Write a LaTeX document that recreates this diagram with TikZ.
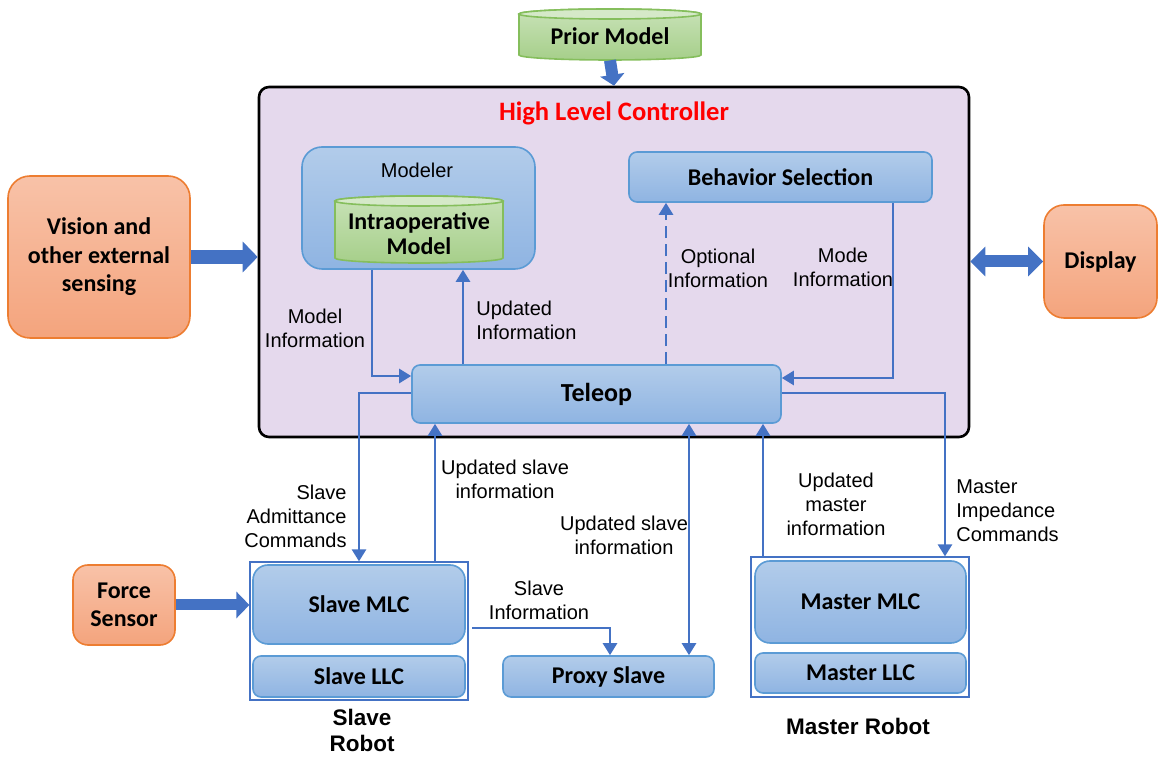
\documentclass[tikz,border=0pt]{standalone}
\usepackage{fontspec}
\setmainfont{Liberation Sans}
\newfontfamily\cfont{Carlito}
\usetikzlibrary{arrows.meta,calc}
\definecolor{lineblue}{HTML}{4472C4}
\definecolor{boxedge}{HTML}{5B9BD5}
\definecolor{bluetop}{HTML}{B2CCEA}
\definecolor{bluebot}{HTML}{8FB4E2}
\definecolor{orangeedge}{HTML}{ED7D31}
\definecolor{orangetop}{HTML}{F8C2A8}
\definecolor{orangebot}{HTML}{F4A47D}
\definecolor{lavender}{HTML}{E5D9ED}
\definecolor{greentop}{HTML}{C8E2B7}
\definecolor{greenbot}{HTML}{A6CF8A}
\definecolor{greencap}{HTML}{D5E9C8}
\definecolor{greenedge}{HTML}{85BE5C}
\definecolor{titlered}{HTML}{FF0000}
\newcommand\mycyl[4]{%
  \pgfmathsetmacro\cylrx{(#3-#1)/4}%
  \path[cylbody] ({#1},{#2+5}) -- ({#1},{#4-5})
    arc[start angle=180,end angle=360,x radius=\cylrx pt,y radius=2.5pt]
    -- ({#3},{#2+5})
    arc[start angle=0,end angle=180,x radius=\cylrx pt,y radius=2.5pt] -- cycle;
  \path[cyltop] ({(#1+#3)/2},{#2+5}) ellipse[x radius=\cylrx pt,y radius=2.5pt];
}
\begin{document}
\begin{tikzpicture}[x=0.5pt,y=-0.5pt,
  boxtext/.style={font=\cfont\bfseries\fontsize{12}{14.25}\selectfont, align=center, text=black},
  bluebox/.style={boxtext, draw=boxedge, line width=0.8pt, top color=bluetop, bottom color=bluebot, rounded corners=4pt, inner sep=0pt},
  orangebox/.style={boxtext, draw=orangeedge, line width=0.8pt, top color=orangetop, bottom color=orangebot, rounded corners=10pt, inner sep=0pt},
  robotframe/.style={draw=lineblue, line width=0.6pt, fill=white, inner sep=0pt},
  cylbody/.style={draw=greenedge, line width=0.8pt, top color=greentop, bottom color=greenbot},
  cyltop/.style={draw=greenedge, line width=0.8pt, fill=greencap},
  conn/.style={draw=lineblue, line width=1.3pt, -{Triangle[width=7pt,length=6pt]}},
  lbl/.style={font=\fontsize{10}{12}\selectfont, align=center, text=black, inner sep=0pt},
  robotlbl/.style={font=\bfseries\fontsize{11.25}{13}\selectfont, align=center, inner sep=0pt},
  blockarrow/.style={draw=lineblue, line width=#1}
]
\useasboundingbox (0,0) rectangle (1158,758);

% High level controller
\node[draw=black, line width=1.3pt, fill=lavender, rounded corners=5pt,
      minimum width=355pt, minimum height=175pt, inner sep=0pt] (hlc) at (614,262) {};
\node[font=\cfont\bfseries\fontsize{13.3}{15}\selectfont, text=titlered] (title) at (614,113) {High Level Controller};

% Prior model cylinder
\mycyl{519}{9}{701}{60}
\node[boxtext, minimum width=91pt, minimum height=25.5pt, inner sep=0pt, text height=11pt, text depth=1pt] (prior) at (610,34.5) {Prior Model};

% Modeler
\node[bluebox, rounded corners=10pt, minimum width=116.5pt, minimum height=61pt] (modeler) at (418.5,208) {};
\node[lbl] (modlabel) at (417,170) {Modeler};
\mycyl{335}{196}{503}{263}
\node[boxtext, font=\cfont\bfseries\fontsize{12}{12.5}\selectfont] (intra) at (419,234) {Intraoperative\\Model};

% Behavior selection and teleop
\node[bluebox, minimum width=151.5pt, minimum height=25pt] (behav) at (780.5,177) {Behavior Selection};
\node[bluebox, font=\cfont\bfseries\fontsize{13}{15}\selectfont, minimum width=184.5pt, minimum height=29pt] (teleop) at (596.5,394) {Teleop};

% External boxes
\node[orangebox, rounded corners=11pt, minimum width=91pt, minimum height=81pt] (vision) at (99,257) {Vision and\\other external\\sensing};
\node[orangebox, minimum width=56.5pt, minimum height=56.5pt] (display) at (1100.5,261.5) {Display};
\node[orangebox, rounded corners=7.5pt, minimum width=51pt, minimum height=40pt] (force) at (124,605) {Force\\Sensor};

% Slave robot
\node[robotframe, minimum width=109pt, minimum height=69pt] (slaverobot) at (359,631) {};
\node[bluebox, rounded corners=7.5pt, minimum width=106pt, minimum height=39.5pt] (slavemlc) at (359,604.5) {Slave MLC};
\node[bluebox, minimum width=106pt, minimum height=20.5pt] (slavellc) at (359,676.5) {Slave LLC};
\node[robotlbl] (slavelbl) at (362,730) {Slave\\Robot};

% Proxy slave
\node[bluebox, minimum width=105.5pt, minimum height=20.5pt] (proxy) at (608.5,676.5) {Proxy Slave};

% Master robot
\node[robotframe, minimum width=109pt, minimum height=70pt] (masterrobot) at (860,627) {};
\node[bluebox, rounded corners=7.5pt, minimum width=105.5pt, minimum height=41pt] (mastermlc) at (860.5,602) {Master MLC};
\node[bluebox, minimum width=105.5pt, minimum height=20pt] (masterllc) at (860.5,673) {Master LLC};
\node[robotlbl] (masterlbl) at (858,726) {Master Robot};

% Block arrows
\draw[blockarrow=6pt, -{Triangle[width=12pt,length=5.5pt]}] (prior.south) -- (hlc.north);
\draw[blockarrow=7pt, -{Triangle[width=15pt,length=7.5pt]}] (vision.east) -- (hlc.west |- vision.east);
\draw[blockarrow=6pt, {Triangle[width=14.5pt,length=7.5pt]}-{Triangle[width=14.5pt,length=7.5pt]}] (hlc.east |- display.west) -- (display.west);
\draw[blockarrow=5.5pt, -{Triangle[width=13pt,length=6.5pt]}] (force.east) -- (slaverobot.west |- force.east);

% Helper coordinates
\coordinate (cModel) at (372,0);
\coordinate (cUpd) at (463,0);
\coordinate (cOpt) at (666,0);
\coordinate (cMode) at (893,0);
\coordinate (cSac) at (359,0);
\coordinate (cUpds) at (435,0);
\coordinate (cMid) at (689,0);
\coordinate (cSi) at (610,0);
\coordinate (cUpdm) at (763,0);
\coordinate (cMic) at (945,0);
\coordinate (rModel) at (0,376);
\coordinate (rMode) at (0,378);
\coordinate (rCmd) at (0,393);
\coordinate (siStart) at (472,628);

% Connectors
\draw[conn] (modeler.south -| cModel) |- (teleop.west |- rModel);
\draw[conn] (teleop.north -| cUpd) -- (modeler.south -| cUpd);
\draw[conn, dash pattern=on 6pt off 3pt] (teleop.north -| cOpt) -- (behav.south -| cOpt);
\draw[conn] (behav.south -| cMode) |- (teleop.east |- rMode);
\draw[conn] (teleop.west |- rCmd) -| (slaverobot.north -| cSac);
\draw[conn] (slaverobot.north -| cUpds) -- (teleop.south -| cUpds);
\draw[conn, {Triangle[width=7pt,length=6pt]}-{Triangle[width=7pt,length=6pt]}] (teleop.south -| cMid) -- (proxy.north -| cMid);
\draw[conn] (siStart) -| (proxy.north -| cSi);
\draw[conn] (masterrobot.north -| cUpdm) -- (teleop.south -| cUpdm);
\draw[conn] (teleop.east |- rCmd) -| (masterrobot.north -| cMic);

% Labels
\node[lbl] (lModel) at (315,328) {Model\\Information};
\node[lbl, align=left, anchor=west] (lUpd) at (476,320) {Updated\\Information};
\node[lbl] (lOpt) at (718,268) {Optional\\Information};
\node[lbl] (lMode) at (843,267) {Mode\\Information};
\node[lbl, align=right, anchor=east] (lSac) at (347,516) {Slave\\Admittance\\Commands};
\node[lbl] (lUpds) at (505,479) {Updated slave\\information};
\node[lbl] (lMid) at (624,535) {Updated slave\\information};
\node[lbl] (lUpdm) at (836,504) {Updated\\master\\information};
\node[lbl, align=left, anchor=west] (lMic) at (956,511) {Master\\Impedance\\Commands};
\node[lbl] (lSi) at (539,600) {Slave\\Information};
\end{tikzpicture}
\end{document}
